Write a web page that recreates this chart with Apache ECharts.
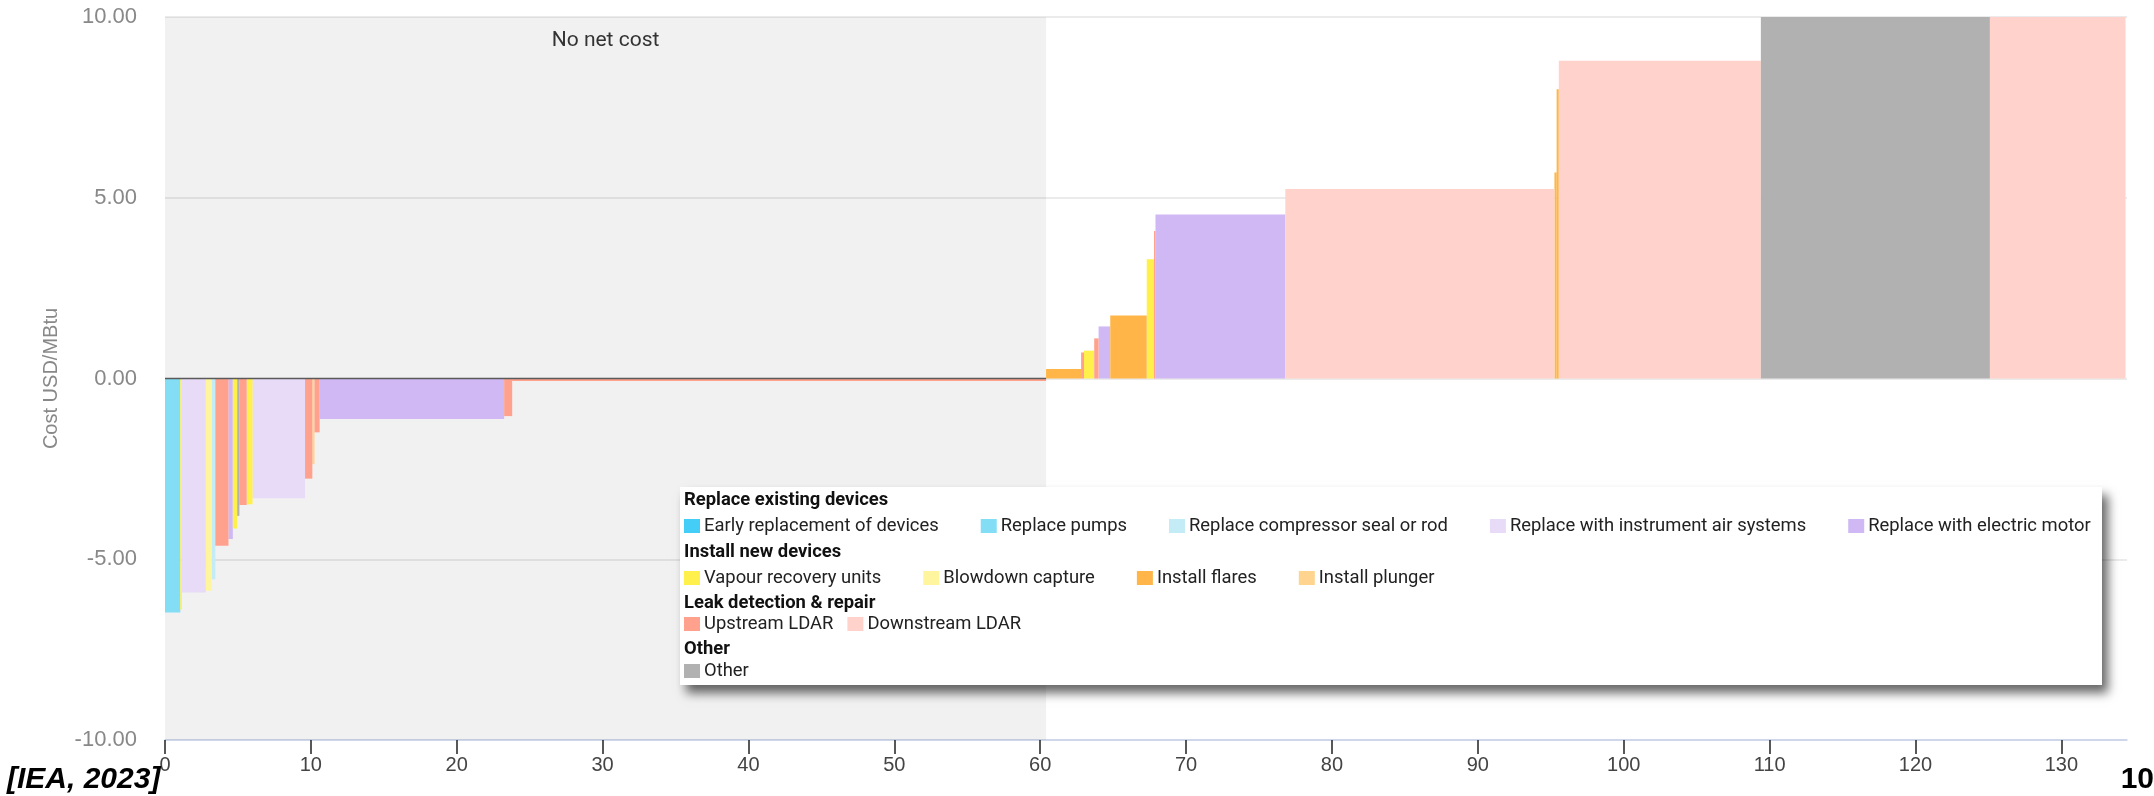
<!DOCTYPE html>
<html>
<head>
<meta charset="utf-8">
<script src="https://cdn.jsdelivr.net/npm/echarts@6/dist/echarts.min.js"></script>
<style>
html,body{margin:0;padding:0;background:#ffffff;}
#chart{width:2154px;height:796px;}
</style>
</head>
<body>
<div id="chart"></div>
<script>
// ---------------- data ----------------
const measures = [
  'Early replacement of devices',
  'Replace pumps',
  'Replace compressor seal or rod',
  'Replace with instrument air systems',
  'Replace with electric motor',
  'Vapour recovery units',
  'Blowdown capture',
  'Install flares',
  'Install plunger',
  'Upstream LDAR',
  'Downstream LDAR',
  'Other'
];
const legendGroups = ['Replace existing devices', 'Install new devices', 'Leak detection & repair', 'Other'];
const groupMembers = [[0, 1, 2, 3, 4], [5, 6, 7, 8], [9, 10], [11]];

// abatement potential of each step (x-axis units), in merit order
const barWidths = [1.05, 0.10, 1.65, 0.40, 0.25, 0.90, 0.30, 0.30, 0.15, 0.50, 0.40, 3.60, 0.50, 0.15, 0.35, 12.65, 0.55, 36.60,
                   2.40, 0.20, 0.70, 0.30, 0.80, 2.50, 0.50, 0.10, 8.90, 18.45, 0.15, 0.15, 13.85, 15.70, 9.30];
// cost of each step, USD/MBtu
const barCosts = [-6.47, -6.40, -5.92, -5.87, -5.55, -4.63, -4.44, -4.15, -3.80, -3.50, -3.48, -3.31, -2.77, -2.37, -1.49, -1.12, -1.04, -0.07,
                  0.26, 0.72, 0.77, 1.11, 1.44, 1.74, 3.30, 4.08, 4.54, 5.24, 5.70, 8.00, 8.79, 12.00, 14.00];
// measure (index into measures) of each step
const barMeasure = [1, 5, 3, 6, 2, 9, 4, 5, 11, 9, 5, 3, 9, 8, 9, 4, 9, 9,
                    7, 9, 5, 9, 4, 7, 5, 9, 4, 10, 7, 7, 10, 11, 10];

const noNetCostRange = [0, 60.4];
const xTickValues = [0, 10, 20, 30, 40, 50, 60, 70, 80, 90, 100, 110, 120, 130];
const yTickValues = [-10, -5, 0, 5, 10];

// ---------------- styles ----------------
const measureColors = ['#44cdf6', '#82ddf5', '#c3ecf7', '#e7dbf8', '#cfb8f4', '#fff04c', '#fff59f',
                       '#ffb547', '#ffd48f', '#ffa18c', '#ffd3cb', '#b1b1b1'];
const FONT = 'Roboto, "Liberation Sans", Arial, sans-serif';
const AXISFONT = '"Liberation Sans", Arial, sans-serif';
const LEGEND_FS = 18.4;

// ---------------- build ----------------
const barStarts = [];
let acc = 0;
barWidths.forEach(w => { barStarts.push(acc); acc += w; });

function renderBar(params, api) {
  const start = api.value(0), end = api.value(1), cost = api.value(2);
  const a = api.coord([start, 0]);
  const b = api.coord([end, cost]);
  const cs = params.coordSys;
  const shape = echarts.graphic.clipRectByRect(
    { x: a[0], y: Math.min(a[1], b[1]), width: b[0] - a[0], height: Math.abs(b[1] - a[1]) },
    { x: cs.x, y: cs.y, width: cs.width, height: cs.height }
  );
  return shape && { type: 'rect', shape: shape, style: { fill: api.visual('color') } };
}

const barSeries = measures.map((name, k) => {
  const data = [];
  barCosts.forEach((c, i) => {
    if (barMeasure[i] === k) data.push([barStarts[i], barStarts[i] + barWidths[i], c]);
  });
  return {
    type: 'custom', name: name, renderItem: renderBar,
    itemStyle: { color: measureColors[k] },
    encode: { x: [0, 1], y: 2 },
    data: data, z: 2, silent: true
  };
});

const zeroLineSeries = {
  type: 'line', name: 'No net cost',
  data: [[noNetCostRange[0], 0], [noNetCostRange[1], 0]],
  symbol: 'none', silent: true, z: 3,
  lineStyle: { color: '#5a5a5a', width: 1.5 },
  markArea: {
    silent: true,
    itemStyle: { color: 'rgba(0,0,0,0.055)' },
    label: { show: true, position: 'insideTop', distance: 13, color: '#333', fontSize: 21, fontFamily: FONT },
    data: [[{ name: 'No net cost', xAxis: noNetCostRange[0] }, { xAxis: noNetCostRange[1] }]]
  }
};

const legendTops = [517, 569, 615, 662];
const legendGaps = [42, 42, 14, 42];
const headingYs = [500, 552, 603, 649];

const option = {
  animation: false,
  backgroundColor: '#ffffff',
  textStyle: { fontFamily: FONT },
  grid: { left: 165, right: 27, top: 17, bottom: 56 },
  xAxis: {
    type: 'value', min: 0, max: 134.5, interval: 10,
    axisLine: { onZero: false, lineStyle: { color: '#c6d2ea', width: 1.5 } },
    axisTick: { show: true, length: 14, customValues: xTickValues, lineStyle: { color: '#222', width: 1.5 } },
    axisLabel: { customValues: xTickValues, color: '#444', fontSize: 20, fontFamily: AXISFONT, margin: 15 },
    splitLine: { show: false }
  },
  yAxis: {
    type: 'value', min: -10, max: 10, interval: 5,
    name: 'Cost USD/MBtu', nameLocation: 'middle', nameGap: 104,
    nameTextStyle: { color: '#888', fontSize: 20, fontFamily: AXISFONT },
    axisLine: { show: false }, axisTick: { show: false },
    axisLabel: { customValues: yTickValues, color: '#888', fontSize: 22, fontFamily: AXISFONT, margin: 28,
                 formatter: v => v.toFixed(2) },
    splitLine: { lineStyle: { color: '#e4e4e4', width: 1.5 } }
  },
  legend: groupMembers.map((members, g) => ({
    data: members.map(i => measures[i]),
    left: 684, top: legendTops[g], orient: 'horizontal',
    icon: 'rect', itemWidth: 16, itemHeight: 14, itemGap: legendGaps[g], padding: 0,
    selectedMode: false, z: 20,
    textStyle: { fontSize: LEGEND_FS, color: '#222', fontFamily: FONT, padding: [0, 0, 0, -1] }
  })),
  graphic: [
    { type: 'rect', z: 10, shape: { x: 680, y: 487, width: 1422, height: 198 },
      style: { fill: '#ffffff', shadowBlur: 10, shadowOffsetX: 6, shadowOffsetY: 8, shadowColor: 'rgba(0,0,0,0.6)' } },
    ...legendGroups.map((t, g) => ({
      type: 'text', z: 20, style: { text: t, x: 684, y: headingYs[g], verticalAlign: 'middle',
        font: 'bold ' + LEGEND_FS + 'px ' + FONT, fill: '#111' }
    })),
    { type: 'text', z: 20, style: { text: '[IEA, 2023]', x: 7, y: 795, verticalAlign: 'bottom',
        font: 'italic bold 30px "Liberation Sans", Arial, sans-serif', fill: '#000' } },
    { type: 'text', z: 20, style: { text: '10', x: 2154, y: 795, align: 'right', verticalAlign: 'bottom',
        font: 'bold 30px "Liberation Sans", Arial, sans-serif', fill: '#000' } }
  ],
  series: [...barSeries, zeroLineSeries]
};

const chart = echarts.init(document.getElementById('chart'), null, { renderer: 'canvas' });
chart.setOption(option);
</script>
</body>
</html>
